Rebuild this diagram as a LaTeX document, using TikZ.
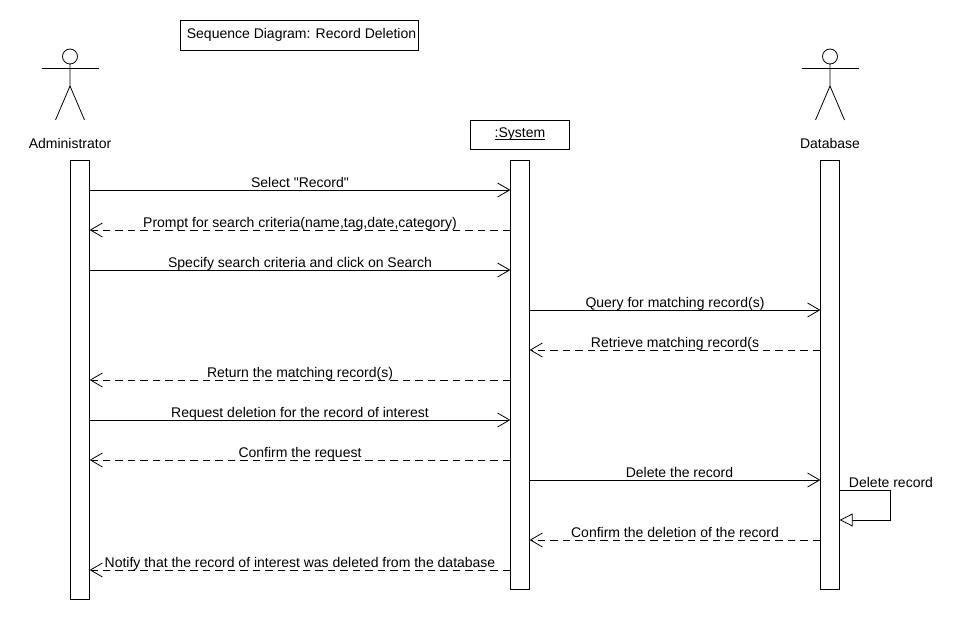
\documentclass[tikz,border=0pt]{standalone}
\usepackage{fontspec}
\newfontfamily\labelfont{Liberation Sans}
\usetikzlibrary{arrows.meta}
\tikzset{
  bar/.style={draw,fill=white,minimum width=18.5pt,anchor=north,inner sep=0pt},
  box/.style={draw,fill=white,inner sep=0pt},
  call/.style={-{Straight Barb[length=12pt,width=14pt,line width=.8pt]}},
  reply/.style={call,dashed,dash pattern=on 7.5pt off 5pt},
  msg/.style={midway,above,inner sep=0pt,yshift=-.5pt,text height=10pt,text depth=3pt},
  actorman/.pic={
    \draw (0,-7.5) circle (7.5pt);
    \draw (-28.5,4) -- (28.5,4);
    \draw (0,0) -- (0,22) -- (-14.5,56);
    \draw (0,22) -- (14.5,56);
  }
}
\begin{document}
\begin{tikzpicture}[x=1pt,y=-1pt,line width=.8pt,font=\labelfont\fontsize{14}{16}\selectfont]
  \useasboundingbox (0,0) rectangle (970,620);
  \fill[white] (0,0) rectangle (970,620);
  \node[box,minimum width=238pt,minimum height=30pt] (title) at (299,35) {\hspace{5pt}\raisebox{1pt}{Sequence Diagram: Record Deletion}};
  \pic at (70,64) {actorman};
  \pic at (830,64) {actorman};
  \node (administrator) at (70,143) {Administrator};
  \node (database) at (830,143) {Database};
  \node[box,minimum width=99pt,minimum height=29pt,text height=10pt,text depth=3pt] (system) at (520,134.5) {\underline{\smash{:System}}};
  \node[bar,minimum height=438.5pt] (adminbar) at (80,160.5) {};
  \node[bar,minimum height=428.5pt] (systembar) at (520,160.5) {};
  \node[bar,minimum height=428.5pt] (dbbar) at (830,160.5) {};
  \draw[call] (adminbar.east |- 0,190) -- node[msg] {Select "Record"} (systembar.west |- 0,190);
  \draw[reply] (systembar.west |- 0,230) -- node[msg] {Prompt for search criteria(name,tag,date,category)} (adminbar.east |- 0,230);
  \draw[call] (adminbar.east |- 0,270) -- node[msg] {Specify search criteria and click on Search} (systembar.west |- 0,270);
  \draw[call] (systembar.east |- 0,310) -- node[msg] {Query for matching record(s)} (dbbar.west |- 0,310);
  \draw[reply] (dbbar.west |- 0,350) -- node[msg] {Retrieve matching record(s} (systembar.east |- 0,350);
  \draw[reply] (systembar.west |- 0,380) -- node[msg] {Return the matching record(s)} (adminbar.east |- 0,380);
  \draw[call] (adminbar.east |- 0,420) -- node[msg] {Request deletion for the record of interest} (systembar.west |- 0,420);
  \draw[reply] (systembar.west |- 0,460) -- node[msg] {Confirm the request} (adminbar.east |- 0,460);
  \draw[call] (systembar.east |- 0,480) -- node[msg,xshift=4.5pt] {Delete the record} (dbbar.west |- 0,480);
  \draw[-{Triangle[open,fill=white,length=13pt,width=13pt]}] (dbbar.east |- 0,490) -- (890,490) -- (890,520) -- (dbbar.east |- 0,520);
  \node (deleterecord) at (891,482) {Delete record};
  \draw[reply] (dbbar.west |- 0,540) -- node[msg] {Confirm the deletion of the record} (systembar.east |- 0,540);
  \draw[reply] (systembar.west |- 0,570) -- node[msg] {Notify that the record of interest was deleted from the database} (adminbar.east |- 0,570);
\end{tikzpicture}
\end{document}
